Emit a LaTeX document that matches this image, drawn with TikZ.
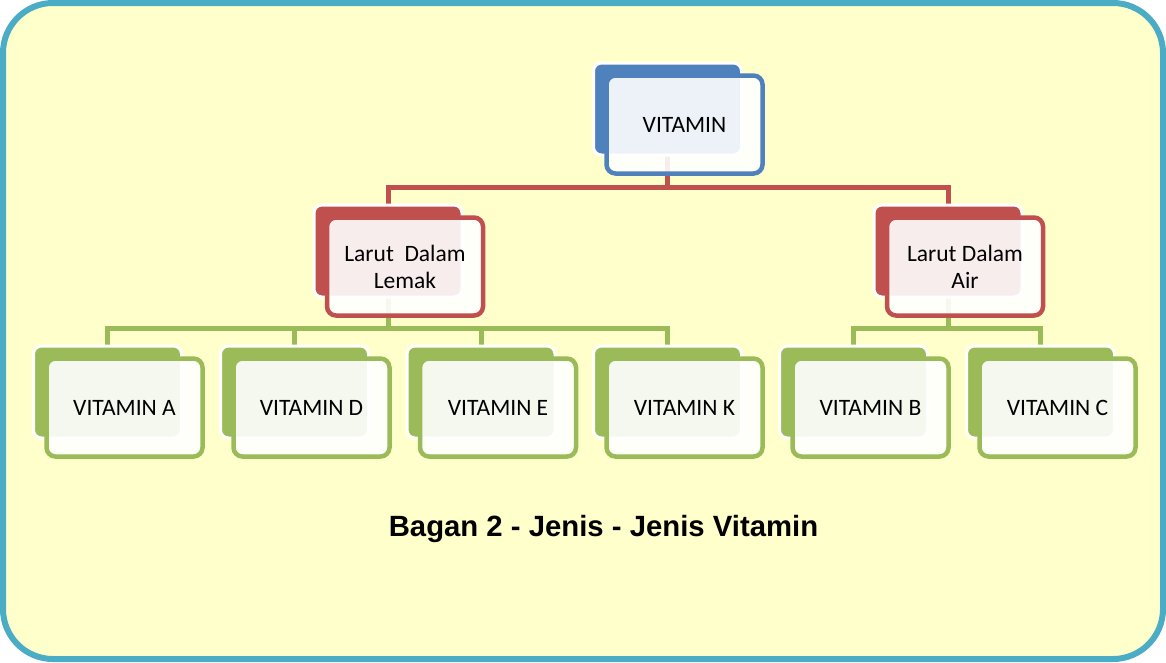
\documentclass[tikz,border=0pt]{standalone}
\usepackage{fontspec}
\newfontfamily\carlito{Carlito}
\newfontfamily\libsans{Liberation Sans}
\definecolor{vblue}{HTML}{4F81BD}
\definecolor{vred}{HTML}{C0504D}
\definecolor{vgreen}{HTML}{9BBB59}
\definecolor{frame}{HTML}{4BACC6}
\definecolor{paper}{HTML}{FFFFCC}
\pgfdeclarelayer{paperlayer}
\pgfdeclarelayer{connlayer}
\pgfsetlayers{paperlayer,connlayer,main}
\tikzset{
  backbox/.style={rectangle, rounded corners=8pt, minimum width=148pt, minimum height=92pt,
    inner sep=0pt, outer sep=0pt, draw=white, line width=3pt},
  frontbox/.style={rectangle, rounded corners=9pt, minimum width=156pt, minimum height=98pt,
    inner sep=0pt, outer sep=0pt, line width=4.5pt, fill=white, fill opacity=0.9, text opacity=1,
    align=center, text=black, font=\carlito\fontsize{23.5}{27}\selectfont},
  conn/.style={line width=5pt, line join=miter, line cap=butt},
}
\begin{document}
\begin{tikzpicture}[x=1pt,y=-1pt]
\useasboundingbox (0,0) rectangle (1166,662);
\begin{pgfonlayer}{paperlayer}
\draw[draw=frame, fill=paper, line width=6pt, rounded corners=50pt] (3,3) rectangle (1163,659);
\end{pgfonlayer}

% top
\node[backbox, fill=vblue] (bV) at (667.5,109) {};
\node[frontbox, draw=vblue] (fV) at (684.5,124.5) {VITAMIN};

% level 2
\node[backbox, fill=vred] (bL) at (388,251) {};
\node[frontbox, draw=vred] (fL) at (405,266.5) {Larut\ \ Dalam\\Lemak};
\node[backbox, fill=vred] (bR) at (948,251) {};
\node[frontbox, draw=vred] (fR) at (965,266.5) {Larut Dalam\\Air};

% leaves
\node[backbox, fill=vgreen] (bA) at (107.5,392) {};
\node[frontbox, draw=vgreen] (fA) at (124.5,407.5) {VITAMIN A};
\node[backbox, fill=vgreen] (bD) at (294.5,392) {};
\node[frontbox, draw=vgreen] (fD) at (311.5,407.5) {VITAMIN D};
\node[backbox, fill=vgreen] (bE) at (481,392) {};
\node[frontbox, draw=vgreen] (fE) at (498,407.5) {VITAMIN E};
\node[backbox, fill=vgreen] (bK) at (667.5,392) {};
\node[frontbox, draw=vgreen] (fK) at (684.5,407.5) {VITAMIN K};
\node[backbox, fill=vgreen] (bB) at (853.5,392) {};
\node[frontbox, draw=vgreen] (fB) at (870.5,407.5) {VITAMIN B};
\node[backbox, fill=vgreen] (bC) at (1040.5,392) {};
\node[frontbox, draw=vgreen] (fC) at (1057.5,407.5) {VITAMIN C};

\coordinate (j1) at (667.5,187);
\coordinate (j2) at (388,328);
\coordinate (j3) at (948,328);

\begin{pgfonlayer}{connlayer}
\draw[conn, vred] (bV.south) -- (j1);
\draw[conn, vred] (bL.north) |- (j1) -| (bR.north);
\draw[conn, vgreen] (bL.south) -- (j2);
\draw[conn, vgreen] (bA.north) |- (j2) -| (bK.north);
\draw[conn, vgreen] (bD.north) -- (bD.north |- j2);
\draw[conn, vgreen] (bE.north) -- (bE.north |- j2);
\draw[conn, vgreen] (bR.south) -- (j3);
\draw[conn, vgreen] (bB.north) |- (j3) -| (bC.north);
\end{pgfonlayer}

\node[font=\libsans\bfseries\fontsize{29.3}{34}\selectfont, text=black] (title) at (603.5,529) {Bagan 2 - Jenis - Jenis Vitamin};
\end{tikzpicture}
\end{document}
